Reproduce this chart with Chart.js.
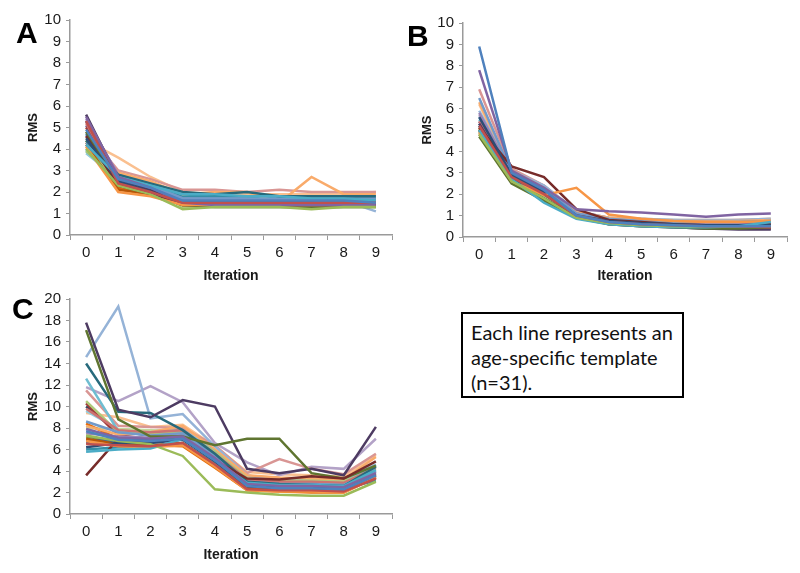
<!DOCTYPE html>
<html>
<head>
<meta charset="utf-8">
<script src="https://cdn.jsdelivr.net/npm/chart.js@4.4.1/dist/chart.umd.min.js"></script>
<style>
  html, body { margin: 0; padding: 0; background: #fff; }
  body { width: 800px; height: 573px; position: relative; overflow: hidden; }
  canvas { position: absolute; }
  .letter { position: absolute; font: bold 30px "Liberation Sans", Arial, sans-serif; line-height: 30px; color: #000; }
  #note { position: absolute; left: 461px; top: 312px; width: 211px; height: 82px; border: 2px solid #000;
          font: 20px Lato, "Noto Sans", sans-serif; line-height: 25px; color: #111; padding: 0 0 0 8px; box-sizing: content-box; }
  #note div { white-space: nowrap; }
</style>
</head>
<body>
<canvas id="cA" width="400" height="285" style="left:0;top:0"></canvas>
<canvas id="cB" width="400" height="285" style="left:400px;top:0"></canvas>
<canvas id="cC" width="400" height="284" style="left:0;top:280px"></canvas>
<div class="letter" style="left:16px;top:18px">A</div>
<div class="letter" style="left:407px;top:21px">B</div>
<div class="letter" style="left:12px;top:294px">C</div>
<div id="note"><div style="margin-top:6px">Each line represents an</div><div>age-specific template</div><div>(n=31).</div></div>
<script>
const iterations = ['0','1','2','3','4','5','6','7','8','9'];
const yTicksAB = [0,1,2,3,4,5,6,7,8,9,10];
const yTicksC = [0,2,4,6,8,10,12,14,16,18,20];
const seriesColors = ['#4F81BD','#C0504D','#9BBB59','#8064A2','#4BACC6','#F79646','#2C4D75','#772C2A','#5F7530','#4D3B62',
  '#276A7C','#B65708','#729ACA','#CD7371','#AFC97A','#9983B5','#6FBDD1','#F9AB6B','#3A679C','#9F3B38',
  '#7E9D40','#664F83','#358EA6','#E46C0A','#95B3D7','#D99694','#C3D69B','#B3A2C7','#93CDDD','#FAC090','#254061'];

const panelA = [
  [4.9, 2.6, 2.2, 1.6, 1.6, 1.6, 1.6, 1.6, 1.6, 1.5],
  [5.3, 2.4, 2.0, 1.5, 1.5, 1.5, 1.5, 1.5, 1.5, 1.5],
  [4.0, 2.3, 1.9, 1.2, 1.3, 1.3, 1.3, 1.2, 1.3, 1.3],
  [5.5, 2.7, 2.2, 1.5, 1.4, 1.4, 1.4, 1.4, 1.4, 1.4],
  [4.2, 2.7, 2.3, 1.9, 1.9, 1.8, 1.8, 1.7, 1.7, 1.6],
  [4.1, 2.0, 1.8, 1.4, 1.4, 1.4, 1.4, 1.4, 1.4, 1.5],
  [4.5, 2.5, 2.0, 1.5, 1.5, 1.5, 1.5, 1.5, 1.5, 1.5],
  [4.6, 2.3, 1.9, 1.4, 1.4, 1.4, 1.4, 1.4, 1.4, 1.4],
  [4.8, 2.4, 2.0, 1.4, 1.3, 1.3, 1.3, 1.3, 1.3, 1.3],
  [5.6, 2.6, 2.1, 1.5, 1.5, 1.5, 1.5, 1.5, 1.4, 1.4],
  [4.4, 2.8, 2.4, 2.0, 1.9, 2.0, 1.8, 1.8, 1.8, 1.8],
  [4.2, 2.1, 1.9, 1.4, 1.4, 1.4, 1.4, 1.4, 1.4, 1.4],
  [4.3, 2.7, 2.3, 1.7, 1.7, 1.7, 1.7, 1.7, 1.7, 1.7],
  [5.2, 2.5, 2.1, 1.6, 1.6, 1.6, 1.6, 1.6, 1.6, 1.6],
  [3.9, 2.6, 2.2, 1.3, 1.3, 1.3, 1.3, 1.3, 1.3, 1.3],
  [5.4, 2.8, 2.3, 1.7, 1.6, 1.6, 1.7, 1.7, 1.6, 1.6],
  [4.0, 2.5, 2.2, 1.5, 1.5, 1.5, 1.5, 1.5, 1.5, 1.4],
  [4.2, 2.9, 2.5, 1.9, 2.0, 2.0, 1.5, 2.7, 1.9, 1.9],
  [4.7, 2.6, 2.1, 1.5, 1.5, 1.5, 1.5, 1.5, 1.5, 1.5],
  [5.0, 2.4, 2.0, 1.5, 1.4, 1.4, 1.4, 1.4, 1.4, 1.4],
  [4.4, 2.3, 1.9, 1.4, 1.4, 1.4, 1.4, 1.3, 1.4, 1.4],
  [5.1, 2.7, 2.2, 1.6, 1.6, 1.6, 1.7, 1.7, 1.7, 1.6],
  [3.9, 2.6, 2.3, 1.8, 1.8, 1.8, 1.7, 1.8, 1.7, 1.7],
  [4.3, 2.2, 1.9, 1.5, 1.5, 1.5, 1.5, 1.5, 1.5, 1.5],
  [4.1, 2.8, 2.4, 1.8, 1.8, 1.8, 1.8, 1.7, 1.6, 1.1],
  [4.8, 3.0, 2.6, 2.1, 2.1, 2.0, 2.1, 2.0, 2.0, 2.0],
  [4.0, 2.4, 2.1, 1.4, 1.4, 1.4, 1.4, 1.4, 1.4, 1.4],
  [4.6, 2.9, 2.4, 1.8, 1.8, 1.8, 1.8, 1.8, 1.8, 1.8],
  [3.8, 2.6, 2.3, 1.6, 1.6, 1.6, 1.6, 1.6, 1.6, 1.5],
  [4.4, 3.6, 2.7, 2.0, 1.9, 1.9, 1.9, 1.9, 1.9, 2.0],
  [5.3, 2.8, 2.3, 1.7, 1.7, 1.7, 1.7, 1.7, 1.6, 1.6]
];

const panelB = [
  [8.9, 3.0, 2.2, 1.0, 0.7, 0.6, 0.55, 0.5, 0.5, 0.5],
  [5.2, 2.8, 2.0, 1.0, 0.7, 0.6, 0.55, 0.5, 0.5, 0.45],
  [4.8, 2.6, 1.8, 0.9, 0.65, 0.55, 0.5, 0.5, 0.5, 0.5],
  [7.8, 3.1, 2.3, 1.3, 1.2, 1.15, 1.05, 0.95, 1.05, 1.1],
  [5.0, 2.7, 1.6, 0.85, 0.6, 0.5, 0.45, 0.45, 0.5, 0.7],
  [4.9, 2.6, 1.95, 2.3, 1.05, 0.85, 0.75, 0.7, 0.7, 0.75],
  [5.6, 2.9, 2.1, 1.0, 0.75, 0.65, 0.6, 0.55, 0.55, 0.55],
  [5.1, 3.3, 2.8, 1.3, 0.8, 0.7, 0.6, 0.55, 0.55, 0.6],
  [4.7, 2.5, 1.7, 0.9, 0.6, 0.5, 0.45, 0.4, 0.4, 0.45],
  [5.3, 2.8, 2.0, 1.0, 0.6, 0.5, 0.45, 0.4, 0.35, 0.35],
  [5.0, 2.7, 1.8, 0.9, 0.65, 0.55, 0.5, 0.45, 0.45, 0.5],
  [4.8, 2.6, 1.8, 0.95, 0.7, 0.6, 0.55, 0.5, 0.5, 0.5],
  [6.5, 3.0, 2.3, 1.1, 0.85, 0.75, 0.7, 0.7, 0.7, 0.75],
  [5.4, 2.9, 2.1, 1.05, 0.75, 0.65, 0.6, 0.55, 0.55, 0.55],
  [5.0, 2.7, 1.9, 0.95, 0.7, 0.6, 0.55, 0.55, 0.5, 0.55],
  [5.8, 3.0, 2.2, 1.1, 0.8, 0.7, 0.65, 0.6, 0.6, 0.6],
  [5.5, 2.8, 2.0, 1.0, 0.75, 0.7, 0.65, 0.65, 0.7, 0.75],
  [6.3, 3.1, 2.3, 1.15, 0.9, 0.8, 0.75, 0.75, 0.75, 0.8],
  [5.3, 2.9, 2.1, 1.05, 0.75, 0.65, 0.6, 0.55, 0.55, 0.55],
  [5.0, 2.7, 1.9, 1.0, 0.7, 0.6, 0.5, 0.45, 0.45, 0.4],
  [4.9, 2.6, 1.8, 0.9, 0.65, 0.55, 0.5, 0.45, 0.45, 0.5],
  [5.4, 2.8, 2.0, 1.0, 0.65, 0.55, 0.45, 0.4, 0.4, 0.4],
  [5.2, 2.8, 1.7, 0.9, 0.65, 0.55, 0.5, 0.5, 0.55, 0.65],
  [5.1, 2.7, 1.9, 1.0, 0.75, 0.7, 0.65, 0.65, 0.65, 0.7],
  [5.9, 3.1, 2.4, 1.2, 0.9, 0.85, 0.8, 0.8, 0.8, 0.85],
  [6.9, 3.2, 2.4, 1.2, 0.9, 0.8, 0.75, 0.75, 0.8, 0.8],
  [5.1, 2.8, 2.0, 1.0, 0.75, 0.65, 0.6, 0.6, 0.6, 0.65],
  [5.7, 2.9, 2.2, 1.1, 0.8, 0.7, 0.6, 0.55, 0.55, 0.6],
  [5.6, 3.0, 2.2, 1.1, 0.85, 0.8, 0.8, 0.75, 0.75, 0.8],
  [6.2, 3.0, 2.3, 1.15, 0.9, 0.85, 0.8, 0.8, 0.8, 0.85],
  [5.2, 2.8, 2.0, 1.0, 0.7, 0.6, 0.55, 0.5, 0.5, 0.5]
];

const panelC = [
  [7.7, 6.9, 6.8, 7.0, 5.0, 2.6, 2.4, 2.4, 2.3, 3.6],
  [6.5, 6.4, 6.3, 6.6, 4.6, 2.3, 2.2, 2.2, 2.1, 3.3],
  [7.3, 6.8, 6.5, 5.4, 2.3, 2.0, 1.8, 1.7, 1.7, 3.0],
  [7.9, 7.1, 7.0, 7.2, 5.2, 2.8, 2.6, 2.6, 2.5, 3.8],
  [5.8, 6.0, 6.1, 7.0, 5.0, 2.9, 2.7, 2.7, 2.6, 4.1],
  [6.8, 6.3, 6.2, 6.4, 4.4, 2.2, 2.1, 2.1, 2.0, 3.4],
  [6.2, 6.6, 6.6, 6.9, 4.9, 2.6, 2.4, 2.4, 2.3, 3.5],
  [3.6, 7.0, 6.7, 7.0, 5.0, 3.3, 3.2, 3.5, 3.3, 4.9],
  [17.1, 8.8, 7.2, 7.2, 6.4, 7.0, 7.0, 3.8, 3.3, 4.5],
  [17.8, 9.7, 9.0, 10.6, 10.0, 4.2, 3.8, 4.2, 3.6, 8.1],
  [14.0, 9.5, 9.4, 7.8, 5.6, 3.0, 2.8, 2.7, 2.6, 4.4],
  [7.0, 6.5, 6.4, 6.6, 4.5, 2.4, 2.3, 2.3, 2.2, 3.7],
  [8.6, 7.6, 7.3, 7.5, 5.4, 3.0, 2.8, 2.8, 2.7, 4.0],
  [9.8, 7.8, 7.6, 7.8, 5.6, 3.2, 3.0, 3.0, 2.9, 4.3],
  [10.5, 7.6, 7.4, 7.6, 5.8, 3.3, 3.1, 3.1, 3.0, 4.2],
  [7.5, 7.2, 7.1, 7.3, 5.3, 2.9, 2.7, 2.7, 2.6, 3.9],
  [12.6, 7.7, 7.5, 7.8, 5.8, 3.2, 3.0, 2.9, 2.8, 4.5],
  [8.2, 7.4, 7.6, 8.2, 6.0, 3.6, 3.4, 3.3, 3.2, 5.3],
  [6.9, 6.8, 6.9, 7.1, 5.1, 2.7, 2.5, 2.5, 2.4, 3.6],
  [10.3, 7.3, 7.0, 7.3, 5.3, 2.5, 2.3, 2.3, 2.2, 3.4],
  [7.2, 6.7, 6.8, 7.0, 5.1, 2.6, 2.4, 2.4, 2.3, 3.6],
  [6.6, 6.9, 6.9, 7.3, 5.2, 2.8, 2.6, 2.6, 2.5, 3.7],
  [6.0, 6.2, 6.3, 6.6, 4.7, 2.6, 2.5, 2.5, 2.4, 3.1],
  [8.4, 7.0, 6.4, 6.3, 4.3, 2.2, 2.1, 2.0, 2.0, 3.4],
  [14.6, 19.3, 8.9, 9.3, 6.3, 3.6, 3.0, 3.4, 3.0, 4.6],
  [11.5, 8.2, 8.1, 8.0, 6.4, 3.8, 5.1, 4.2, 3.7, 5.6],
  [8.0, 7.9, 7.8, 7.7, 5.7, 3.4, 3.2, 3.2, 3.1, 4.4],
  [11.8, 10.5, 11.9, 10.4, 6.6, 4.8, 3.6, 4.4, 4.2, 7.0],
  [9.6, 7.9, 7.7, 7.9, 5.9, 3.5, 3.3, 3.3, 3.2, 4.6],
  [9.4, 9.0, 8.1, 8.3, 6.3, 3.9, 3.7, 3.6, 3.5, 5.5],
  [10.0, 7.7, 7.3, 7.6, 5.5, 3.1, 2.9, 2.9, 2.8, 4.0]
];

const axisColor = '#9a9a9a';
const tickFont = { family: '"Liberation Sans", Arial, sans-serif', size: 15 };
const titleFont = { family: '"Liberation Sans", Arial, sans-serif', weight: 'bold' };

function makeChart(id, values, yTicks, opts) {
  const datasets = values.map((v, i) => ({
    data: v,
    borderColor: seriesColors[i % seriesColors.length],
    borderWidth: 2.5,
    pointRadius: 0,
    tension: 0,
    fill: false
  }));
  return new Chart(document.getElementById(id), {
    type: 'line',
    data: { labels: iterations, datasets },
    options: {
      responsive: false,
      animation: false,
      events: [],
      layout: { padding: opts.padding },
      plugins: { legend: { display: false }, tooltip: { enabled: false } },
      scales: {
        x: {
          type: 'category',
          offset: true,
          grid: { display: true, offset: true, drawOnChartArea: false, drawTicks: true, tickLength: 5, color: axisColor },
          border: { color: axisColor, width: 1.5 },
          ticks: { font: tickFont, color: '#1a1a1a', padding: 4, maxRotation: 0 },
          title: { display: true, text: 'Iteration', font: { ...titleFont, size: 14 }, color: '#1a1a1a', padding: { top: 2, bottom: 0 } },
          afterFit: s => { s.height = opts.xHeight; }
        },
        y: {
          min: yTicks[0],
          max: yTicks[yTicks.length - 1],
          afterBuildTicks: s => { s.ticks = yTicks.map(v => ({ value: v })); },
          grid: { display: true, drawOnChartArea: false, drawTicks: true, tickLength: 4, color: axisColor },
          border: { color: axisColor, width: 1.5 },
          ticks: { font: tickFont, color: '#1a1a1a', padding: 5 },
          title: { display: true, text: 'RMS', font: { ...titleFont, size: 13 }, color: '#1a1a1a', padding: { top: 4, bottom: 4 } },
          afterFit: s => { s.width = opts.yWidth; }
        }
      }
    }
  });
}

makeChart('cA', panelA, yTicksAB, { padding: { left: 22, top: 20, right: 8, bottom: 0 }, yWidth: 48, xHeight: 50 });
makeChart('cB', panelB, yTicksAB, { padding: { left: 16, top: 23, right: 13, bottom: 0 }, yWidth: 47, xHeight: 48 });
makeChart('cC', panelC, yTicksC, { padding: { left: 22, top: 19, right: 8, bottom: 0 }, yWidth: 48, xHeight: 50 });
</script>
</body>
</html>
